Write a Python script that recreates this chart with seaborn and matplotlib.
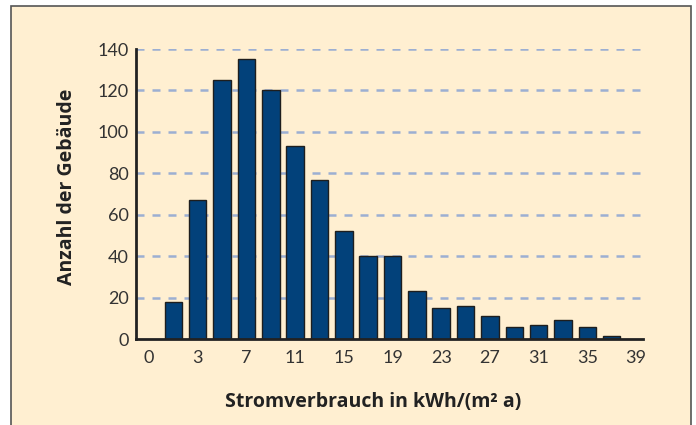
import numpy as np
import pandas as pd
import matplotlib
matplotlib.use("Agg")
import matplotlib.pyplot as plt
import seaborn as sns
from matplotlib.patches import Rectangle

# Data
bin_centers = [1, 3, 5, 7, 9, 11, 13, 15, 17, 19, 21, 23, 25, 27, 29, 31, 33, 35, 37]
counts = [18, 67, 125, 135, 120, 93, 77, 52, 40, 40, 23, 15, 16, 11, 6, 7, 9, 6, 1.5]
tick_positions = [-1, 3, 7, 11, 15, 19, 23, 27, 31, 35, 39]
tick_labels = ["0", "3", "7", "11", "15", "19", "23", "27", "31", "35", "39"]
y_ticks = [0, 20, 40, 60, 80, 100, 120, 140]

bg = "#FFEFD1"
bar_color = "#02417A"

sns.set_style("white")
plt.rcParams["font.family"] = ["Lato", "DejaVu Sans"]

fig = plt.figure(figsize=(6.96, 4.25), dpi=100)
fig.patch.set_facecolor("white")
W, H = 696, 425
# cream panel with grey frame
fig.patches.append(Rectangle((11 / W, -0.01), 680 / W, 419 / H + 0.01,
                             transform=fig.transFigure, facecolor=bg,
                             edgecolor="#555555", linewidth=1.2, zorder=-10))

ax = fig.add_axes([136 / W, (425 - 339) / H, (643 - 136) / W, 290 / H])
ax.set_facecolor("none")

df = pd.DataFrame({"x": bin_centers, "n": counts})
sns.barplot(data=df, x="x", y="n", native_scale=True, color=bar_color,
            saturation=1, width=0.72, edgecolor="#1E1E1E", linewidth=1.0,
            ax=ax, zorder=3)

for yv in y_ticks[1:]:
    ax.axhline(yv, xmin=0, xmax=(640 - 136) / 507, color="#9CAFD2",
               linewidth=1.8, linestyle=(0, (3.2, 3.2)), zorder=1)

ax.set_xlim(-2.07, 39.57)
ax.set_ylim(0, 140)
ax.set_xticks(tick_positions)
ax.set_xticklabels(tick_labels)
ax.set_yticks(y_ticks)
ax.tick_params(axis="both", length=0, labelsize=13, colors="#333333")
ax.tick_params(axis="x", pad=8)
ax.tick_params(axis="y", pad=5)

for s in ["top", "right"]:
    ax.spines[s].set_visible(False)
for s in ["left", "bottom"]:
    ax.spines[s].set_color("#222222")
    ax.spines[s].set_linewidth(2.0)
    ax.spines[s].set_zorder(4)

label_font = dict(fontsize=14, fontweight="bold", color="#222222",
                  family=["Open Sans", "DejaVu Sans"])
ax.set_xlabel("Stromverbrauch in kWh/(m² a)", **label_font)
ax.set_ylabel("Anzahl der Gebäude", **label_font)
ax.xaxis.set_label_coords(0.467, -0.183)
ax.yaxis.set_label_coords(-0.116, 0.524)

fig.savefig("out.png", dpi=100, facecolor=fig.get_facecolor())
plt.close(fig)
